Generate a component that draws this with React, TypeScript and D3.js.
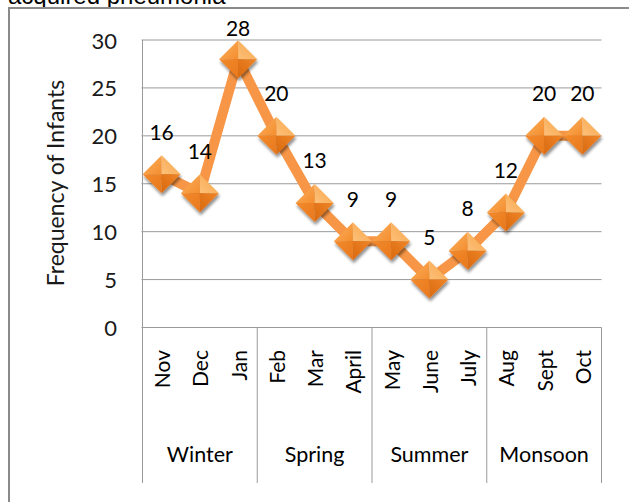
import * as d3 from 'd3'

const months = ['Nov', 'Dec', 'Jan', 'Feb', 'Mar', 'April', 'May', 'June', 'July', 'Aug', 'Sept', 'Oct']
const infants = [16, 14, 28, 20, 13, 9, 9, 5, 8, 12, 20, 20]
const seasons = ['Winter', 'Spring', 'Summer', 'Monsoon']
const yTicks = [0, 5, 10, 15, 20, 25, 30]

const W = 629
const H = 502
const plot = { left: 142.5, right: 601.5, top: 40, bottom: 327.5 }
const axisBottom = 483
const FONT = 'Lato, "Open Sans", sans-serif'
const GRID = '#9a9a9a'

export default function App() {
  const x = d3.scaleBand<string>().domain(months).range([plot.left, plot.right])
  const y = d3.scaleLinear().domain([0, 30]).range([plot.bottom, plot.top])
  const groupW = (plot.right - plot.left) / seasons.length
  const cx = (m: string) => (x(m) ?? 0) + x.bandwidth() / 2

  const line = d3
    .line<number>()
    .x((_, i) => cx(months[i]))
    .y((d) => y(d))

  const r = 19

  return (
    <svg
      width={W}
      height={H}
      style={{ position: 'absolute', left: 0, top: 0, background: '#fff' }}
    >
      <defs>
        <linearGradient id="tl" x1="0" y1="0" x2="1" y2="1">
          <stop offset="0" stopColor="#fbb260" />
          <stop offset="1" stopColor="#f48d2e" />
        </linearGradient>
        <linearGradient id="tr" x1="1" y1="0" x2="0" y2="1">
          <stop offset="0" stopColor="#f9a445" />
          <stop offset="1" stopColor="#fcc07a" />
        </linearGradient>
        <linearGradient id="bl" x1="0" y1="0" x2="1" y2="1">
          <stop offset="0" stopColor="#f28a2c" />
          <stop offset="1" stopColor="#e9781c" />
        </linearGradient>
        <linearGradient id="br" x1="1" y1="0" x2="0" y2="1">
          <stop offset="0" stopColor="#ef8528" />
          <stop offset="1" stopColor="#d9690e" />
        </linearGradient>
        <filter id="shadow" x="-50%" y="-50%" width="200%" height="200%">
          <feGaussianBlur in="SourceAlpha" stdDeviation="1.8" />
          <feOffset dx="1" dy="2.5" result="b" />
          <feComponentTransfer>
            <feFuncA type="linear" slope="0.45" />
          </feComponentTransfer>
          <feMerge>
            <feMergeNode />
            <feMergeNode in="SourceGraphic" />
          </feMerge>
        </filter>
      </defs>

      {/* title, cut by the top edge like the source */}
      <text x={8} y={4} fontFamily='"Liberation Sans", Arial, sans-serif' fontSize={24} fill="#000">
        acquired pneumonia
      </text>

      {/* chart frame */}
      <rect x={9} y={8} width={W + 10} height={H + 10} fill="none" stroke="#8a8a8a" strokeWidth={2} />

      {/* gridlines */}
      {yTicks.map((t) => (
        <line key={t} x1={plot.left - 1} x2={plot.right} y1={y(t)} y2={y(t)} stroke={GRID} strokeWidth={1} />
      ))}
      <line x1={plot.left} x2={plot.left} y1={plot.top} y2={axisBottom} stroke={GRID} strokeWidth={1} />
      {seasons.map((s, i) => (
        <line
          key={s}
          x1={plot.left + groupW * (i + 1)}
          x2={plot.left + groupW * (i + 1)}
          y1={plot.bottom}
          y2={axisBottom}
          stroke={GRID}
          strokeWidth={1}
        />
      ))}

      {/* y tick labels */}
      {yTicks.map((t) => (
        <text
          key={t}
          x={117}
          y={y(t)}
          textAnchor="end"
          dominantBaseline="central"
          fontFamily={FONT}
          fontSize={22}
          fill="#1a1a1a"
        >
          {t}
        </text>
      ))}
      <text
        transform={`translate(55,183) rotate(-90)`}
        textAnchor="middle"
        dominantBaseline="central"
        fontFamily={FONT}
        fontSize={23}
        fill="#1a1a1a"
      >
        Frequency of Infants
      </text>

      {/* month labels */}
      {months.map((m) => (
        <text
          key={m}
          transform={`translate(${cx(m)},350) rotate(-90)`}
          textAnchor="end"
          dominantBaseline="central"
          fontFamily={FONT}
          fontSize={21}
          fill="#000"
        >
          {m}
        </text>
      ))}

      {/* season labels */}
      {seasons.map((s, i) => (
        <text
          key={s}
          x={plot.left + groupW * (i + 0.5)}
          y={454}
          textAnchor="middle"
          dominantBaseline="central"
          fontFamily={FONT}
          fontSize={21.5}
          fill="#000"
        >
          {s}
        </text>
      ))}

      {/* series line */}
      <path d={line(infants) ?? ''} fill="none" stroke="#f79646" strokeWidth={10} strokeLinejoin="miter" />

      {/* markers */}
      {infants.map((v, i) => {
        const px = cx(months[i])
        const py = y(v)
        return (
          <g key={i} transform={`translate(${px},${py})`} filter="url(#shadow)">
            <path d={`M${-r},0L0,${-r}L0,0Z`} fill="url(#tl)" />
            <path d={`M0,${-r}L${r},0L0,0Z`} fill="url(#tr)" />
            <path d={`M${-r},0L0,${r}L0,0Z`} fill="url(#bl)" />
            <path d={`M${r},0L0,${r}L0,0Z`} fill="url(#br)" />
          </g>
        )
      })}

      {/* data labels */}
      {infants.map((v, i) => (
        <text
          key={i}
          x={cx(months[i])}
          y={Math.max(y(v) - 43, 27.5)}
          textAnchor="middle"
          dominantBaseline="central"
          fontFamily={FONT}
          fontSize={21}
          fill="#000"
        >
          {v}
        </text>
      ))}
    </svg>
  )
}
